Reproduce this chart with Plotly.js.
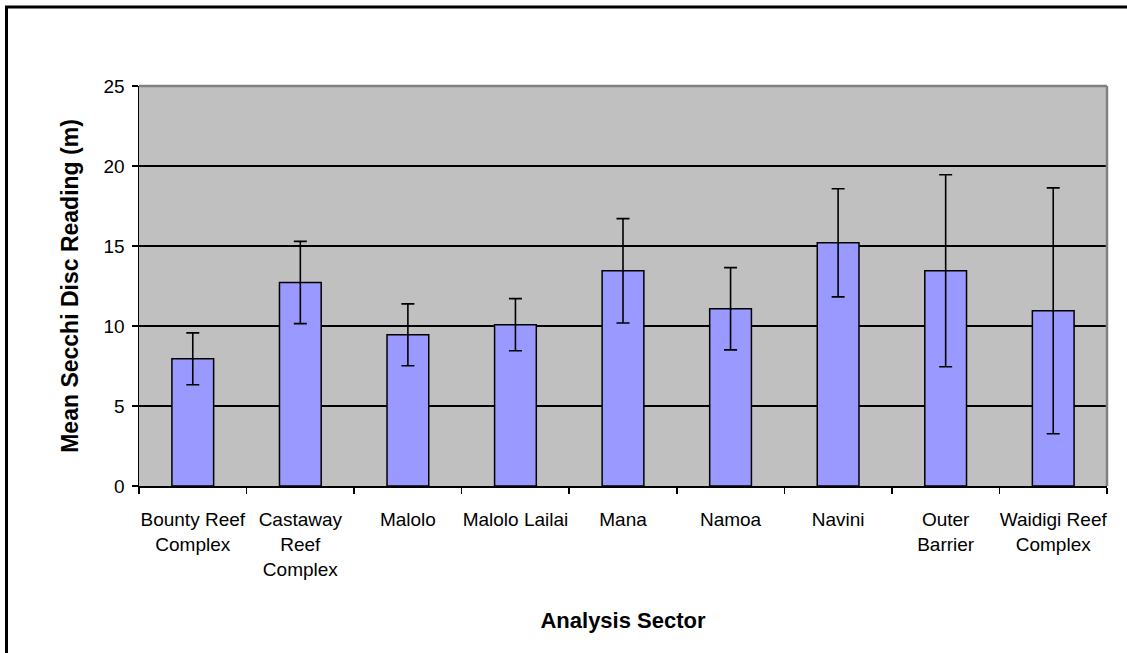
<!DOCTYPE html>
<html>
<head>
<meta charset="utf-8">
<script src="https://cdn.plot.ly/plotly-3.0.1.min.js"></script>
<style>
  html, body { margin: 0; padding: 0; background: #ffffff; }
  #chart { width: 1127px; height: 653px; }
</style>
</head>
<body>
<div id="chart"></div>
<script>
// ---- data ----
const sectors = [
  "Bounty Reef<br>Complex",
  "Castaway<br>Reef<br>Complex",
  "Malolo",
  "Malolo Lailai",
  "Mana",
  "Namoa",
  "Navini",
  "Outer<br>Barrier",
  "Waidigi Reef<br>Complex"
];
const meanSecchi = [7.95, 12.72, 9.45, 10.08, 13.45, 11.08, 15.2, 13.45, 10.95];
const errorSecchi = [1.62, 2.57, 1.93, 1.63, 3.26, 2.57, 3.38, 6.0, 7.68];
const yTickVals = [0, 5, 10, 15, 20, 25];

const trace = {
  type: "bar",
  x: sectors,
  y: meanSecchi,
  marker: { color: "#9999FF", line: { color: "#000000", width: 1.5 } },
  error_y: {
    type: "data",
    array: errorSecchi,
    visible: true,
    color: "#000000",
    thickness: 1.6,
    width: 6.5
  },
  hoverinfo: "x+y"
};

const frameX = (6.5 - 139) / 968;
const frameY = 1 + (86 - 7) / 400;

const layout = {
  width: 1127,
  height: 653,
  margin: { l: 139, r: 20, t: 86, b: 167, pad: 0 },
  paper_bgcolor: "#ffffff",
  plot_bgcolor: "#C0C0C0",
  showlegend: false,
  bargap: 0.612,
  font: { family: "Liberation Sans, Arial, sans-serif", color: "#000000" },
  xaxis: {
    type: "category",
    tickson: "boundaries",
    ticks: "outside",
    ticklen: 6,
    tickwidth: 1.5,
    tickcolor: "#000000",
    showline: true,
    linecolor: "#000000",
    linewidth: 1.5,
    showgrid: false,
    tickangle: 0,
    ticklabelstandoff: 16,
    tickfont: { family: "Liberation Sans, Arial, sans-serif", size: 19, color: "#000000" },
    title: {
      text: "Analysis Sector",
      font: { family: "Liberation Sans, Arial, sans-serif", size: 22, color: "#000000", weight: "bold" },
      standoff: 34
    },
    fixedrange: true
  },
  yaxis: {
    range: [0, 25],
    tickvals: yTickVals,
    ticktext: yTickVals.map(String),
    ticks: "outside",
    ticklen: 6,
    tickwidth: 1.5,
    tickcolor: "#000000",
    showline: true,
    linecolor: "#000000",
    linewidth: 1.5,
    showgrid: true,
    gridcolor: "#000000",
    gridwidth: 1.2,
    zeroline: false,
    ticklabelstandoff: 3,
    tickfont: { family: "Liberation Sans, Arial, sans-serif", size: 19, color: "#000000" },
    title: {
      text: "Mean Secchi Disc Reading (m)",
      font: { family: "Liberation Sans, Arial, sans-serif", size: 23, color: "#000000", weight: "bold" },
      standoff: 18
    },
    fixedrange: true
  },
  shapes: [
    // plot area border (top and right, gray)
    { type: "line", xref: "paper", yref: "paper", x0: 0, x1: 1, y0: 1, y1: 1,
      line: { color: "#808080", width: 2.5 }, layer: "above" },
    { type: "line", xref: "paper", yref: "paper", x0: 1, x1: 1, y0: 0, y1: 1,
      line: { color: "#808080", width: 2.5 }, layer: "above" },
    // outer chart frame (top and left edges)
    { type: "path", xref: "paper", yref: "paper",
      path: "M " + frameX + "," + (-0.6) + " L " + frameX + "," + frameY + " L 1.1," + frameY,
      line: { color: "#000000", width: 3 }, layer: "above" }
  ]
};

Plotly.newPlot("chart", [trace], layout, { displayModeBar: false, staticPlot: true });
</script>
</body>
</html>
